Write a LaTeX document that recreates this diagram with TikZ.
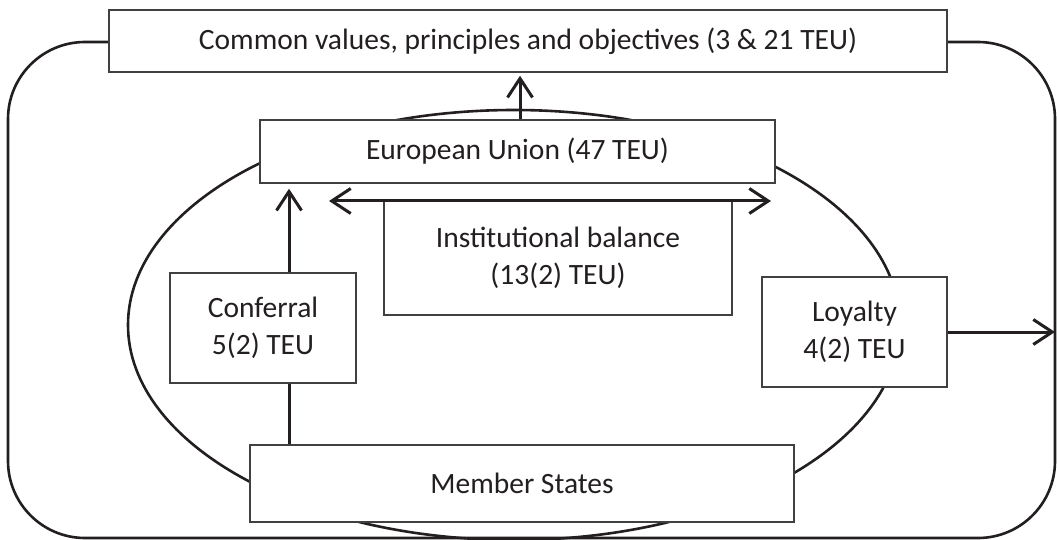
\documentclass[tikz,border=0pt]{standalone}
\usepackage{fontspec}
\setmainfont{Carlito}
\usetikzlibrary{arrows.meta}
\definecolor{txt}{HTML}{231F20}
\tikzset{
  box/.style={draw=black!75, line width=1.5pt, fill=white, inner sep=0pt, align=center,
    text=txt, font=\fontsize{29.5}{37.5}\selectfont},
  conn/.style={line width=3pt, draw=txt},
  tip/.tip={Straight Barb[length=19pt,width=25pt,line width=3pt]},
  frame/.style={line width=2.6pt, draw=txt}
}
\begin{document}
\begin{tikzpicture}[x=1pt,y=-1pt]
\useasboundingbox (0,0) rectangle (1057,540);
% outer frame and ellipse
\draw[frame, rounded corners=77pt] (8,42) rectangle (1055,538);
\draw[frame] (514,325) ellipse [x radius=386, y radius=215];
% boxes
\node[box, minimum width=838pt, minimum height=62pt] (common) at (528,41) {Common values, principles and objectives (3 \& 21 TEU)};
\node[box, minimum width=515pt, minimum height=63pt] (eu) at (517.5,151.5) {European Union (47 TEU)};
\node[box, minimum width=348pt, minimum height=114pt] (inst) at (558,258) {Institutional balance\\(13(2) TEU)};
\node[box, minimum width=186pt, minimum height=110pt] (conf) at (263,328) {Conferral\\5(2) TEU};
\node[box, minimum width=185pt, minimum height=110pt] (loyal) at (854.5,332) {Loyalty\\4(2) TEU};
\node[box, minimum width=544pt, minimum height=77pt] (ms) at (522,483.5) {Member States};
% helper coordinates
\coordinate (ax) at (520,0);
\coordinate (cx) at (289,0);
\coordinate (dl) at (329,201);
\coordinate (dr) at (771,201);
\coordinate (lend) at (1055,332);
% connectors
\draw[conn, -{tip}, shorten >=3pt] (eu.north -| ax) -- (common.south -| ax);
\draw[conn, -{tip}, shorten >=5pt] (conf.north -| cx) -- (eu.south -| cx);
\draw[conn] (ms.north -| cx) -- (conf.south -| cx);
\draw[conn, {tip}-{tip}] (dl) -- (dr);
\draw[conn, -{tip}] (loyal.east) -- (lend);
\end{tikzpicture}
\end{document}
